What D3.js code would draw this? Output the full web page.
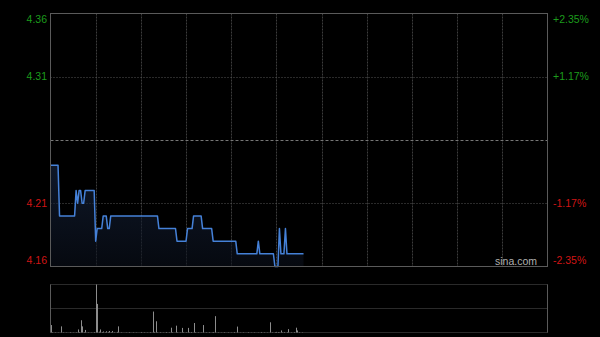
<!DOCTYPE html>
<html>
<head>
<meta charset="utf-8">
<script src="https://cdn.jsdelivr.net/npm/d3@7"></script>
<style>
  html, body { margin: 0; padding: 0; background: #000; }
  svg { display: block; }
</style>
</head>
<body>
<svg id="chart" width="600" height="337"></svg>
<script>
const width = 600;
const height = 337;

// previous close and axis ticks
const prevClose = 4.26;
const priceTicks = [4.36, 4.31, 4.21, 4.16];
const priceLabels = ["4.36", "4.31", "4.21", "4.16"];
const pctLabels = ["+2.35%", "+1.17%", "-1.17%", "-2.35%"];

// one price per trading minute (from 9:30)
const prices = [
  4.24, 4.24, 4.24, 4.24, 4.24, 4.24, 4.20, 4.20, 4.20, 4.20,
  4.20, 4.20, 4.20, 4.20, 4.20, 4.20, 4.20, 4.22, 4.21, 4.22,
  4.22, 4.21, 4.21, 4.22, 4.22, 4.22, 4.22, 4.22, 4.22, 4.22,
  4.18, 4.19, 4.19, 4.19, 4.19, 4.20, 4.20, 4.20, 4.19, 4.19,
  4.20, 4.20, 4.20, 4.20, 4.20, 4.20, 4.20, 4.20, 4.20, 4.20,
  4.20, 4.20, 4.20, 4.20, 4.20, 4.20, 4.20, 4.20, 4.20, 4.20,
  4.20, 4.20, 4.20, 4.20, 4.20, 4.20, 4.20, 4.20, 4.20, 4.20,
  4.20, 4.20, 4.19, 4.19, 4.19, 4.19, 4.19, 4.19, 4.19, 4.19,
  4.19, 4.19, 4.19, 4.19, 4.18, 4.18, 4.18, 4.18, 4.18, 4.18,
  4.18, 4.19, 4.19, 4.19, 4.19, 4.20, 4.20, 4.20, 4.20, 4.20,
  4.20, 4.19, 4.19, 4.19, 4.19, 4.19, 4.19, 4.19, 4.18, 4.18,
  4.18, 4.18, 4.18, 4.18, 4.18, 4.18, 4.18, 4.18, 4.18, 4.18,
  4.18, 4.18, 4.18, 4.18, 4.17, 4.17, 4.17, 4.17, 4.17, 4.17,
  4.17, 4.17, 4.17, 4.17, 4.17, 4.17, 4.17, 4.17, 4.18, 4.17,
  4.17, 4.17, 4.17, 4.17, 4.17, 4.17, 4.17, 4.17, 4.17, 4.16,
  4.16, 4.16, 4.19, 4.17, 4.17, 4.17, 4.19, 4.17, 4.17, 4.17,
  4.17, 4.17, 4.17, 4.17, 4.17, 4.17, 4.17, 4.17, 4.17
];

// volume per minute (lots)
const volumes = [
  73, 4, 0, 3, 0, 2, 0, 60, 3, 0,
  2, 0, 0, 4, 0, 2, 0, 3, 30, 5,
  120, 60, 4, 25, 0, 3, 0, 2, 0, 5,
  470, 280, 8, 30, 5, 10, 3, 12, 6, 15,
  4, 15, 3, 0, 6, 60, 0, 3, 0, 0,
  2, 0, 4, 0, 0, 3, 0, 2, 0, 0,
  5, 0, 3, 0, 2, 0, 4, 0, 205, 6,
  110, 3, 0, 4, 0, 2, 0, 5, 0, 3,
  47, 4, 0, 67, 3, 0, 2, 45, 4, 0,
  3, 45, 3, 5, 0, 93, 4, 0, 3, 0,
  2, 73, 0, 3, 0, 4, 0, 2, 5, 160,
  0, 3, 0, 2, 0, 4, 0, 0, 3, 0,
  2, 0, 5, 0, 58, 0, 2, 0, 3, 0,
  0, 4, 0, 2, 0, 3, 0, 0, 2, 0,
  5, 0, 3, 0, 2, 0, 100, 3, 0, 4,
  6, 5, 3, 20, 3, 5, 0, 4, 33, 0,
  3, 0, 5, 47, 20, 4, 0, 3, 0
];

const totalMinutes = 330;
const gridMinutes = [30, 60, 90, 120, 150, 180, 210, 240, 270, 300];

const green = "#1c9c1c";
const red = "#d01515";
const font = "'Liberation Sans', Arial, sans-serif";

const plot = { left: 50.5, right: 547.5, top: 13.5, bottom: 266.5 };
const vol = { top: 284.5, bottom: 332.5 };

const svg = d3.select("#chart");

svg.append("rect")
    .attr("width", width)
    .attr("height", height)
    .attr("fill", "#000");

const x = d3.scaleLinear()
    .domain([0, totalMinutes])
    .range([plot.left, plot.right]);

const y = d3.scaleLinear()
    .domain([4.16, 4.36])
    .range([plot.bottom, plot.top]);

const yVol = d3.scaleLinear()
    .domain([0, d3.max(volumes)])
    .range([vol.bottom, vol.top]);

// gradient under price line
const defs = svg.append("defs");
const grad = defs.append("linearGradient")
    .attr("id", "areaGrad")
    .attr("x1", 0).attr("y1", 0)
    .attr("x2", 0).attr("y2", 1);
grad.append("stop").attr("offset", "0%").attr("stop-color", "#1a2a48").attr("stop-opacity", 0.55);
grad.append("stop").attr("offset", "100%").attr("stop-color", "#0a0f1a").attr("stop-opacity", 0.6);

// vertical grid
svg.selectAll(".vgrid")
    .data(gridMinutes)
    .enter()
    .append("line")
    .attr("x1", d => Math.round(x(d)) + 0.5)
    .attr("x2", d => Math.round(x(d)) + 0.5)
    .attr("y1", plot.top)
    .attr("y2", plot.bottom)
    .attr("stroke", "#3c3c3c")
    .attr("stroke-dasharray", "2,1");

// horizontal grid
svg.selectAll(".hgrid")
    .data([4.31, 4.21])
    .enter()
    .append("line")
    .attr("x1", plot.left)
    .attr("x2", plot.right)
    .attr("y1", d => Math.round(y(d)) + 0.5)
    .attr("y2", d => Math.round(y(d)) + 0.5)
    .attr("stroke", "#555")
    .attr("stroke-dasharray", "1,2");

// previous close line
svg.append("line")
    .attr("x1", plot.left)
    .attr("x2", plot.right)
    .attr("y1", Math.round(y(prevClose)) + 0.5)
    .attr("y2", Math.round(y(prevClose)) + 0.5)
    .attr("stroke", "#777")
    .attr("stroke-dasharray", "3,2");

// price area + line
const area = d3.area()
    .x((d, i) => x(i))
    .y0(plot.bottom)
    .y1(d => y(d));

const line = d3.line()
    .x((d, i) => x(i))
    .y(d => y(d));

svg.append("path")
    .datum(prices)
    .attr("d", area)
    .attr("fill", "url(#areaGrad)");

svg.append("path")
    .datum(prices)
    .attr("d", line)
    .attr("fill", "none")
    .attr("stroke", "#4581d8")
    .attr("stroke-width", 1.5)
    .attr("stroke-linejoin", "round");

// frame of price panel
svg.append("rect")
    .attr("x", plot.left)
    .attr("y", plot.top)
    .attr("width", plot.right - plot.left)
    .attr("height", plot.bottom - plot.top)
    .attr("fill", "none")
    .attr("stroke", "#5a5a5a");

// left price labels
const labelColor = v => v > prevClose ? green : red;
const labelShift = (d, i) => i === 0 ? 6 : (i === priceTicks.length - 1 ? -6 : 0);

svg.selectAll(".plabel")
    .data(priceTicks)
    .enter()
    .append("text")
    .attr("x", 47)
    .attr("y", (d, i) => y(d) + labelShift(d, i))
    .attr("dy", "0.35em")
    .attr("text-anchor", "end")
    .attr("font-family", font)
    .attr("font-size", 10.5)
    .attr("fill", d => labelColor(d))
    .text((d, i) => priceLabels[i]);

// right percent labels
svg.selectAll(".rlabel")
    .data(priceTicks)
    .enter()
    .append("text")
    .attr("x", 553)
    .attr("y", (d, i) => y(d) + labelShift(d, i))
    .attr("dy", "0.35em")
    .attr("text-anchor", "start")
    .attr("font-family", font)
    .attr("font-size", 10.5)
    .attr("fill", d => labelColor(d))
    .text((d, i) => pctLabels[i]);

// watermark
svg.append("text")
    .attr("x", 537)
    .attr("y", 261)
    .attr("dy", "0.35em")
    .attr("text-anchor", "end")
    .attr("font-family", font)
    .attr("font-size", 10.5)
    .attr("fill", "#b0b0b0")
    .text("sina.com");

// volume panel grid
svg.selectAll(".vline")
    .data([vol.top, (vol.top + vol.bottom) / 2, vol.bottom])
    .enter()
    .append("line")
    .attr("x1", plot.left)
    .attr("x2", plot.right)
    .attr("y1", d => Math.round(d - 0.5) + 0.5)
    .attr("y2", d => Math.round(d - 0.5) + 0.5)
    .attr("stroke", "#555")
    .attr("stroke-dasharray", "1,1");

svg.selectAll(".vborder")
    .data([plot.left, plot.right])
    .enter()
    .append("line")
    .attr("x1", d => d)
    .attr("x2", d => d)
    .attr("y1", vol.top)
    .attr("y2", vol.bottom)
    .attr("stroke", "#5a5a5a");

// volume bars
svg.selectAll(".bar")
    .data(volumes)
    .enter()
    .append("rect")
    .attr("x", (d, i) => Math.round(x(i)))
    .attr("y", d => yVol(d))
    .attr("width", 1)
    .attr("height", d => vol.bottom - yVol(d))
    .attr("fill", "#8c8c8c");
</script>
</body>
</html>
